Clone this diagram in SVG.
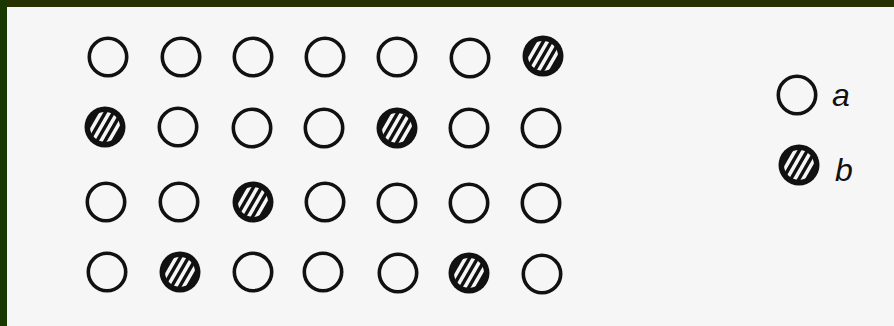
<svg xmlns="http://www.w3.org/2000/svg" width="894" height="326" viewBox="0 0 894 326">
  <defs>
    <style>
      .open { fill: none; stroke: #111; stroke-width: 3.6; }
      .lbl { font-family: "Liberation Sans", Arial, sans-serif; font-style: italic; font-size: 32px; fill: #111; }
      .stripe { stroke: #f6f6f6; stroke-width: 3.6; }
    </style>
    <clipPath id="inner">
      <circle cx="0" cy="0" r="15"/>
    </clipPath>
    <g id="hatched">
      <circle cx="0" cy="0" r="20.5" fill="#111"/>
      <g clip-path="url(#inner)">
        <line class="stripe" x1="0.91" y1="-22.57" x2="-19.09" y2="12.07"/>
        <line class="stripe" x1="6.97" y1="-19.07" x2="-13.03" y2="15.57"/>
        <line class="stripe" x1="13.03" y1="-15.57" x2="-6.97" y2="19.07"/>
        <line class="stripe" x1="19.09" y1="-12.07" x2="-0.91" y2="22.57"/>
      </g>
    </g>
    <circle id="plain" cx="0" cy="0" r="18.7" class="open"/>
  </defs>

  <rect x="0" y="0" width="894" height="326" fill="#f6f6f6"/>
  <rect x="0" y="0" width="894" height="7" fill="#283200"/>
  <rect x="0" y="0" width="7" height="326" fill="#1b3700"/>

  <g id="connectors"/>

  <!-- Row 1 -->
  <g id="r1c1"><use href="#plain" x="108" y="57"/></g>
  <g id="r1c2"><use href="#plain" x="181" y="57"/></g>
  <g id="r1c3"><use href="#plain" x="253" y="57"/></g>
  <g id="r1c4"><use href="#plain" x="325" y="57"/></g>
  <g id="r1c5"><use href="#plain" x="397" y="57"/></g>
  <g id="r1c6"><use href="#plain" x="470" y="58"/></g>
  <g id="r1c7"><use href="#hatched" x="543" y="56"/></g>

  <!-- Row 2 -->
  <g id="r2c1"><use href="#hatched" x="105" y="127"/></g>
  <g id="r2c2"><use href="#plain" x="178" y="127"/></g>
  <g id="r2c3"><use href="#plain" x="252" y="128"/></g>
  <g id="r2c4"><use href="#plain" x="324" y="128"/></g>
  <g id="r2c5"><use href="#hatched" x="397" y="128"/></g>
  <g id="r2c6"><use href="#plain" x="469" y="128"/></g>
  <g id="r2c7"><use href="#plain" x="541" y="128"/></g>

  <!-- Row 3 -->
  <g id="r3c1"><use href="#plain" x="106" y="202"/></g>
  <g id="r3c2"><use href="#plain" x="179" y="202"/></g>
  <g id="r3c3"><use href="#hatched" x="253" y="202"/></g>
  <g id="r3c4"><use href="#plain" x="325" y="202"/></g>
  <g id="r3c5"><use href="#plain" x="397" y="203"/></g>
  <g id="r3c6"><use href="#plain" x="469" y="203"/></g>
  <g id="r3c7"><use href="#plain" x="541" y="203"/></g>

  <!-- Row 4 -->
  <g id="r4c1"><use href="#plain" x="107" y="272"/></g>
  <g id="r4c2"><use href="#hatched" x="180" y="272"/></g>
  <g id="r4c3"><use href="#plain" x="253" y="272"/></g>
  <g id="r4c4"><use href="#plain" x="323" y="272"/></g>
  <g id="r4c5"><use href="#plain" x="398" y="273"/></g>
  <g id="r4c6"><use href="#hatched" x="469" y="273"/></g>
  <g id="r4c7"><use href="#plain" x="542" y="274"/></g>

  <!-- Legend -->
  <g id="legend-a">
    <use href="#plain" x="797" y="95"/>
    <text class="lbl" x="832" y="106">a</text>
  </g>
  <g id="legend-b">
    <use href="#hatched" x="799" y="165"/>
    <text class="lbl" x="835" y="181">b</text>
  </g>
</svg>
